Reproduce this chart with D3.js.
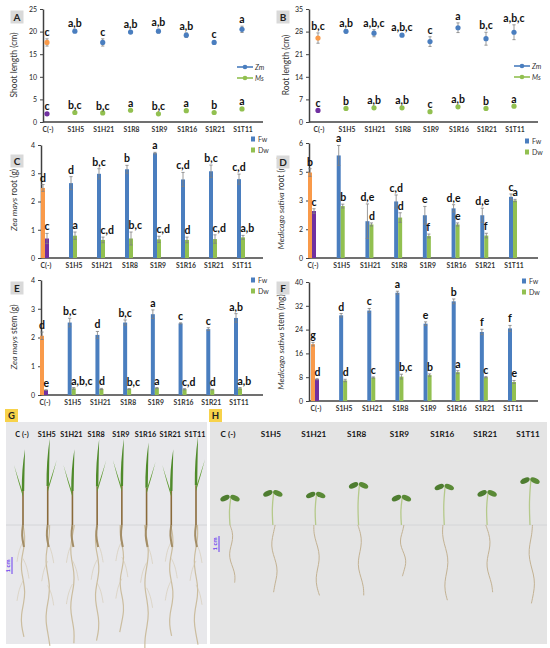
<!DOCTYPE html>
<html>
<head>
<meta charset="utf-8">
<title>Shoot and root growth, Zea mays and Medicago sativa</title>
<script src="https://d3js.org/d3.v7.min.js"></script>
<style>
  body { margin: 0; background: #fff; }
  svg { display: block; font-family: Lato, "Open Sans", sans-serif; }
</style>
</head>
<body>
<svg width="550" height="648"></svg>

<script>
// ---- data ----
const categories = ["C(-)", "S1H5", "S1H21", "S1R8", "S1R9", "S1R16", "S1R21", "S1T11"];
const photoLabels = ["C (-)", "S1H5", "S1H21", "S1R8", "S1R9", "S1R16", "S1R21", "S1T11"];

// A: shoot length (cm)
const shootZm     = [17.6, 20.1, 17.6, 19.9, 20.1, 19.2, 17.6, 20.5];
const shootZmErr  = [0.8, 0.3, 0.8, 0.3, 0.4, 0.5, 0.3, 0.7];
const shootZmLet  = ["c", "a,b", "c", "a,b", "a,b", "a,b", "c", "a"];
const shootMs     = [1.8, 2.1, 2.0, 2.6, 1.8, 2.5, 2.1, 2.9];
const shootMsErr  = [0.1, 0.1, 0.1, 0.1, 0.1, 0.1, 0.1, 0.1];
const shootMsLet  = ["c", "b,c", "b,c", "a", "b,c", "a", "b", "a"];

// B: root length (cm)
const rootZm      = [26.0, 28.1, 27.5, 26.9, 24.9, 29.2, 25.8, 27.8];
const rootZmErr   = [1.6, 0.5, 1.1, 0.3, 1.5, 1.5, 2.0, 2.3];
const rootZmLet   = ["b,c", "a,b", "a,b,c", "a,b,c", "c", "a", "b,c", "a,b,c"];
const rootMs      = [3.6, 4.2, 4.4, 4.4, 3.2, 4.7, 4.2, 4.9];
const rootMsErr   = [0.15, 0.15, 0.15, 0.15, 0.15, 0.15, 0.15, 0.15];
const rootMsLet   = ["c", "b", "a,b", "a,b", "c", "a,b", "b", "a"];

// C: Zea mays root (g)
const zmRootFw    = [2.48, 2.65, 2.98, 3.14, 3.71, 2.78, 3.07, 2.79];
const zmRootFwErr = [0.12, 0.23, 0.18, 0.14, 0.03, 0.25, 0.22, 0.18];
const zmRootFwLet = ["d", "d", "b,c", "b", "a", "c,d", "b,c", "c,d"];
const zmRootDw    = [0.69, 0.79, 0.64, 0.69, 0.66, 0.64, 0.67, 0.73];
const zmRootDwErr = [0.18, 0.13, 0.10, 0.23, 0.11, 0.10, 0.15, 0.07];
const zmRootDwLet = ["c", "a", "c,d", "b,c", "c,d", "d", "c,d", "a,b"];

// D: Medicago sativa root (mg)
const msRootFw    = [4.46, 5.35, 1.92, 2.95, 2.23, 2.59, 2.23, 3.19];
const msRootFwErr = [0.20, 0.52, 0.90, 0.34, 0.46, 0.19, 0.37, 0.15];
const msRootFwLet = ["b", "a", "d,e", "c,d", "e", "d,e", "d,e", "c"];
const msRootDw    = [2.45, 2.71, 1.75, 2.11, 1.15, 1.75, 1.17, 3.00];
const msRootDwErr = [0.12, 0.10, 0.08, 0.25, 0.10, 0.08, 0.12, 0.06];
const msRootDwLet = ["c", "b", "d", "d", "f", "e", "f", "a"];
const msRootTicks  = [0, 1.5, 3, 4.5, 6];
const msRootTickLabels = ["0", "2", "3", "5", "6"];

// E: Zea mays stem (g)
const zmStemFw    = [2.06, 2.52, 2.09, 2.52, 2.81, 2.49, 2.29, 2.68];
const zmStemFwErr = [0.13, 0.15, 0.12, 0.09, 0.15, 0.02, 0.05, 0.15];
const zmStemFwLet = ["d", "b,c", "d", "b,c", "a", "c", "c", "a,b"];
const zmStemDw    = [0.17, 0.23, 0.21, 0.21, 0.24, 0.20, 0.19, 0.23];
const zmStemDwErr = [0.01, 0.03, 0.02, 0.01, 0.02, 0.02, 0.01, 0.03];
const zmStemDwLet = ["e", "a,b,c", "d", "b,c", "a", "c,d", "d", "a,b"];

// F: Medicago sativa stem (mg)
const msStemFw    = [19.1, 28.8, 30.4, 36.4, 26.0, 33.5, 23.2, 24.4];
const msStemFwErr = [0.6, 0.6, 0.7, 0.5, 0.6, 0.8, 0.9, 1.0];
const msStemFwLet = ["g", "d", "c", "a", "e", "b", "f", "f"];
const msStemDw    = [7.3, 6.9, 7.9, 8.2, 8.7, 9.7, 8.0, 6.4];
const msStemDwErr = [0.2, 0.4, 0.2, 0.8, 0.4, 0.5, 0.2, 0.5];
const msStemDwLet = ["d", "d", "c", "b,c", "b", "a", "c", "e"];

const blue = "#4a7ebf", green = "#92c050", orange = "#f99a4a", purple = "#7030a0";
const errCol = "#808080", axisCol = "#404040";

const svg = d3.select("svg");
svg.append("rect").attr("width", 550).attr("height", 648).attr("fill", "#fff");

function zip(v, e, l) { return v.map((d, i) => ({ cat: categories[i], v: d, e: e[i], l: l[i], i: i })); }

function frame(p, y) {
  const g = svg.append("g");
  const ax = g.append("g")
      .attr("transform", `translate(${p.ax},0)`)
      .call(d3.axisLeft(y).tickValues(p.ticks).tickSize(3).tickSizeOuter(0)
        .tickFormat((d, i) => p.tickLabels ? p.tickLabels[i] : d));
  ax.select(".domain").attr("stroke", axisCol).attr("stroke-width", 1.5);
  ax.selectAll(".tick line").attr("stroke", axisCol);
  ax.selectAll(".tick text").attr("font-size", 7).attr("fill", "#222").attr("font-family", "Lato");
  g.append("line")
      .attr("x1", p.ax).attr("x2", p.axEnd).attr("y1", y(0)).attr("y2", y(0))
      .attr("stroke", axisCol).attr("stroke-width", 1.5);
  // y title
  const t = g.append("text")
      .attr("transform", `translate(${p.titleX},${p.titleY}) rotate(-90)`)
      .attr("text-anchor", "middle").attr("font-size", 8.5).attr("fill", "#333");
  p.title.forEach(s => t.append("tspan").attr("font-style", s.it ? "italic" : "normal").text(s.t));
  // panel letter
  g.append("rect").attr("x", p.box[0] - 6.5).attr("y", p.box[1] - 6.5)
      .attr("width", 13).attr("height", 13).attr("fill", "#d9d9d9");
  g.append("text").attr("x", p.box[0]).attr("y", p.box[1] + 3.6)
      .attr("text-anchor", "middle").attr("font-weight", "bold").attr("font-size", 10)
      .attr("fill", "#222").text(p.letter);
  return g;
}

function catLabels(g, x, y0) {
  g.selectAll(null).data(categories).join("text")
      .attr("x", d => x(d) + 1).attr("y", y0 + 10)
      .attr("text-anchor", "middle").attr("font-size", 6.8).attr("font-weight", "bold")
      .attr("fill", "#333").text(d => d);
}

function errBars(g, data, xf, y) {
  g.selectAll(null).data(data).join("path")
      .attr("d", d => {
        const xx = xf(d), a = y(d.v + d.e), b = y(d.v - d.e);
        return `M${xx},${a}V${b}M${xx - 1.6},${a}H${xx + 1.6}M${xx - 1.6},${b}H${xx + 1.6}`;
      })
      .attr("stroke", errCol).attr("stroke-width", 0.8).attr("fill", "none");
}

function sigLetters(g, data, xf, y, anchor, dx) {
  g.selectAll(null).data(data).join("text")
      .attr("x", d => xf(d) + dx).attr("y", d => y(d.v + d.e) - 3)
      .attr("text-anchor", anchor).attr("font-size", 10.5).attr("font-weight", "bold")
      .attr("fill", "#111").text(d => d.l);
}

function dotPanel(p) {
  const y = d3.scaleLinear().domain([0, p.max]).range([p.yb, p.yt]);
  const x = d3.scalePoint().domain(categories).range(p.xr);
  const g = frame(p, y);
  catLabels(g, x, y(0));
  p.series.forEach(s => {
    const data = zip(s.v, s.e, s.l);
    const xf = d => x(d.cat);
    errBars(g, data, xf, y);
    g.selectAll(null).data(data).join("circle")
        .attr("cx", xf).attr("cy", d => y(d.v)).attr("r", 2.6)
        .attr("fill", d => d.i === 0 ? s.c0 : s.c);
    sigLetters(g, data, xf, y, "middle", 0);
  });
  // legend
  p.series.forEach((s, k) => {
    const ly = p.leg[1] + k * 11;
    g.append("line").attr("x1", p.leg[0]).attr("x2", p.leg[0] + 16)
        .attr("y1", ly).attr("y2", ly).attr("stroke", s.c).attr("stroke-width", 1.6);
    g.append("circle").attr("cx", p.leg[0] + 8).attr("cy", ly).attr("r", 2.3).attr("fill", s.c);
    g.append("text").attr("x", p.leg[0] + 18).attr("y", ly + 2.5)
        .attr("font-size", 7).attr("font-style", "italic").attr("fill", "#333").text(s.name);
  });
}

function barPanel(p) {
  const y = d3.scaleLinear().domain([0, p.max]).range([p.yb, p.yt]);
  const x = d3.scalePoint().domain(categories).range(p.xr);
  const g = frame(p, y);
  catLabels(g, x, y(0));
  const bw = 4;
  const fw = zip(p.fw, p.fwErr, p.fwLet), dw = zip(p.dw, p.dwErr, p.dwLet);
  g.selectAll(null).data(fw).join("rect")
      .attr("x", d => x(d.cat) - bw).attr("width", bw)
      .attr("y", d => y(d.v)).attr("height", d => y(0) - y(d.v))
      .attr("fill", d => d.i === 0 ? orange : blue);
  g.selectAll(null).data(dw).join("rect")
      .attr("x", d => x(d.cat)).attr("width", bw)
      .attr("y", d => y(d.v)).attr("height", d => y(0) - y(d.v))
      .attr("fill", d => d.i === 0 ? purple : green);
  const fx = d => x(d.cat) - bw / 2, dxf = d => x(d.cat) + bw / 2;
  errBars(g, fw, fx, y);
  errBars(g, dw, dxf, y);
  sigLetters(g, fw, fx, y, "middle", 0);
  sigLetters(g, dw, dxf, y, "start", -2.5);
  [["Fw", blue], ["Dw", green]].forEach((s, k) => {
    const ly = p.leg[1] + k * 11;
    g.append("rect").attr("x", p.leg[0]).attr("y", ly - 2.5).attr("width", 4).attr("height", 5).attr("fill", s[1]);
    g.append("text").attr("x", p.leg[0] + 7).attr("y", ly + 2.5)
        .attr("font-size", 7).attr("fill", "#333").text(s[0]);
  });
}

// ---- panels ----
dotPanel({ letter: "A", box: [17, 17], ax: 43, axEnd: 263, yt: 9, yb: 122, xr: [47, 242],
  max: 25, ticks: [0, 5, 10, 15, 20, 25], titleX: 17, titleY: 65,
  title: [{ t: "Shoot length (cm)" }], leg: [237, 67],
  series: [
    { name: "Zm", v: shootZm, e: shootZmErr, l: shootZmLet, c: blue, c0: orange },
    { name: "Ms", v: shootMs, e: shootMsErr, l: shootMsLet, c: green, c0: purple }
  ] });

dotPanel({ letter: "B", box: [283, 17], ax: 309, axEnd: 538, yt: 9, yb: 122, xr: [318, 514],
  max: 35, ticks: [0, 7, 14, 21, 28, 35], titleX: 289, titleY: 65,
  title: [{ t: "Root length (cm)" }], leg: [514, 66],
  series: [
    { name: "Zm", v: rootZm, e: rootZmErr, l: rootZmLet, c: blue, c0: orange },
    { name: "Ms", v: rootMs, e: rootMsErr, l: rootMsLet, c: green, c0: purple }
  ] });

barPanel({ letter: "C", box: [17, 161], ax: 41, axEnd: 263, yt: 145, yb: 258, xr: [45, 241],
  max: 4, ticks: [0, 1, 2, 3, 4], titleX: 17, titleY: 200,
  title: [{ t: "Zea mays", it: true }, { t: " root (g)" }], leg: [251, 139],
  fw: zmRootFw, fwErr: zmRootFwErr, fwLet: zmRootFwLet,
  dw: zmRootDw, dwErr: zmRootDwErr, dwLet: zmRootDwLet });

barPanel({ letter: "D", box: [283, 162], ax: 309, axEnd: 538, yt: 143, yb: 258, xr: [312, 513],
  max: 6, ticks: msRootTicks, tickLabels: msRootTickLabels, titleX: 284, titleY: 203,
  title: [{ t: "Medicago sativa", it: true }, { t: " root (mg)" }], leg: [525, 141],
  fw: msRootFw, fwErr: msRootFwErr, fwLet: msRootFwLet,
  dw: msRootDw, dwErr: msRootDwErr, dwLet: msRootDwLet });

barPanel({ letter: "E", box: [17, 288], ax: 41, axEnd: 263, yt: 280, yb: 395, xr: [44, 238],
  max: 4, ticks: [0, 1, 2, 3, 4], titleX: 17, titleY: 337,
  title: [{ t: "Zea mays", it: true }, { t: " stem (g)" }], leg: [251, 280],
  fw: zmStemFw, fwErr: zmStemFwErr, fwLet: zmStemFwLet,
  dw: zmStemDw, dwErr: zmStemDwErr, dwLet: zmStemDwLet });

barPanel({ letter: "F", box: [283, 288], ax: 309, axEnd: 538, yt: 282, yb: 401, xr: [315, 512],
  max: 40, ticks: [0, 8, 16, 24, 32, 40], titleX: 284, titleY: 342,
  title: [{ t: "Medicago sativa", it: true }, { t: " stem (mg)" }], leg: [522, 281],
  fw: msStemFw, fwErr: msStemFwErr, fwLet: msStemFwLet,
  dw: msStemDw, dwErr: msStemDwErr, dwLet: msStemDwLet });

// ---- photo panels G (maize) and H (alfalfa), sketched from the length data ----
const groundY = 525;
function photo(x0, x1, letter, lx, fill, fs) {
  const g = svg.append("g");
  g.append("rect").attr("x", x0).attr("y", 422).attr("width", x1 - x0).attr("height", 222).attr("fill", fill);
  g.append("line").attr("x1", x0).attr("x2", x1).attr("y1", groundY).attr("y2", groundY)
      .attr("stroke", "#cfd0d3").attr("stroke-width", 0.8);
  g.append("rect").attr("x", x0 - 1).attr("y", 409).attr("width", 13).attr("height", 13).attr("fill", "#f7d24a");
  g.append("text").attr("x", x0 + 5.5).attr("y", 419).attr("text-anchor", "middle")
      .attr("font-weight", "bold").attr("font-size", 9.5).attr("fill", "#222").text(letter);
  const x = d3.scalePoint().domain(photoLabels).range(lx);
  g.selectAll(null).data(photoLabels).join("text")
      .attr("x", d => x(d)).attr("y", 437).attr("text-anchor", "middle")
      .attr("font-weight", "bold").attr("font-size", fs)
      .attr("fill", "#151515").text(d => d);
  return { g, x };
}

const wavy = d3.line().curve(d3.curveBasis);

// maize: about 4.3 px per cm in the photo
const G = photo(6, 207, "G", [22, 195], "#e8e8eb", 7.3);
const kG = 4.3;
photoLabels.forEach((lab, i) => {
  const cx = G.x(lab) + 1, top = groundY - shootZm[i] * kG, bot = groundY + rootZm[i] * kG;
  // roots
  const pts = d3.range(0, 11).map(j => [cx + Math.sin(j * 1.3 + i) * 2.2, groundY + (bot - groundY) * j / 10]);
  G.g.append("path").attr("d", wavy(pts)).attr("fill", "none").attr("stroke", "#cbbd9f").attr("stroke-width", 1.2);
  [0.15, 0.3, 0.5].forEach((f, j) => {
    const yy = groundY + (bot - groundY) * f, s = (i + j) % 2 ? 1 : -1;
    G.g.append("path").attr("d", wavy([[cx, yy], [cx + s * 4, yy + 8], [cx + s * 6, yy + 20]]))
        .attr("fill", "none").attr("stroke", "#d3c7ae").attr("stroke-width", 0.6);
  });
  G.g.append("path").attr("d", wavy([[cx, groundY], [cx - 1.5, groundY + 10], [cx + 1, groundY + 22]]))
      .attr("fill", "none").attr("stroke", "#a38d66").attr("stroke-width", 2);
  // stem and leaves
  const mid = groundY - (groundY - top) * 0.45;
  G.g.append("line").attr("x1", cx).attr("x2", cx).attr("y1", groundY).attr("y2", mid)
      .attr("stroke", "#8a6a3a").attr("stroke-width", 1.6);
  G.g.append("path").attr("d", `M${cx - 1.2},${mid} Q${cx - 1.5},${(mid + top) / 2} ${cx + 2},${top} Q${cx + 1.5},${(mid + top) / 2} ${cx + 1.2},${mid}Z`)
      .attr("fill", "#4f8a2a");
  const s = i % 2 ? 1 : -1;
  G.g.append("path").attr("d", `M${cx},${mid + 6} Q${cx + s * 5},${mid - 10} ${cx + s * 9},${mid - 26} Q${cx + s * 4},${mid - 10} ${cx},${mid + 2}Z`)
      .attr("fill", "#5e9a30");
});
G.g.append("line").attr("x1", 12).attr("x2", 12).attr("y1", 557).attr("y2", 574).attr("stroke", "#6b3df0").attr("stroke-width", 1);
G.g.append("text").attr("transform", "translate(10,566) rotate(-90)").attr("text-anchor", "middle")
    .attr("font-size", 6).attr("font-weight", "bold").attr("fill", "#6b3df0").text("1 cm");

// alfalfa: about 16 px per cm in the photo
const H = photo(210, 547, "H", [228, 528], "#e4e4e4", 8.2);
const kH = 16;
photoLabels.forEach((lab, i) => {
  const cx = H.x(lab) + 2, top = groundY - shootMs[i] * kH, bot = groundY + rootMs[i] * kH;
  const pts = d3.range(0, 9).map(j => [cx + Math.sin(j * 1.1 + i * 2) * 2.5 + j * 0.4, groundY + (bot - groundY) * j / 8]);
  H.g.append("path").attr("d", wavy(pts)).attr("fill", "none").attr("stroke", "#c3b293").attr("stroke-width", 1);
  H.g.append("path").attr("d", wavy([[cx, groundY], [cx - 1, (groundY + top) / 2], [cx + 1, top]]))
      .attr("fill", "none").attr("stroke", "#b5c98a").attr("stroke-width", 1.3);
  H.g.append("ellipse").attr("cx", cx - 5).attr("cy", top + 2).attr("rx", 5).attr("ry", 2.6)
      .attr("transform", `rotate(-25,${cx - 5},${top + 2})`).attr("fill", "#4e7d30");
  H.g.append("ellipse").attr("cx", cx + 5).attr("cy", top + 2).attr("rx", 5).attr("ry", 2.6)
      .attr("transform", `rotate(25,${cx + 5},${top + 2})`).attr("fill", "#5a8a36");
});
H.g.append("line").attr("x1", 219).attr("x2", 219).attr("y1", 536).attr("y2", 552).attr("stroke", "#6b3df0").attr("stroke-width", 1);
H.g.append("text").attr("transform", "translate(217,544) rotate(-90)").attr("text-anchor", "middle")
    .attr("font-size", 6).attr("font-weight", "bold").attr("fill", "#6b3df0").text("1 cm");
</script>
</body>
</html>
